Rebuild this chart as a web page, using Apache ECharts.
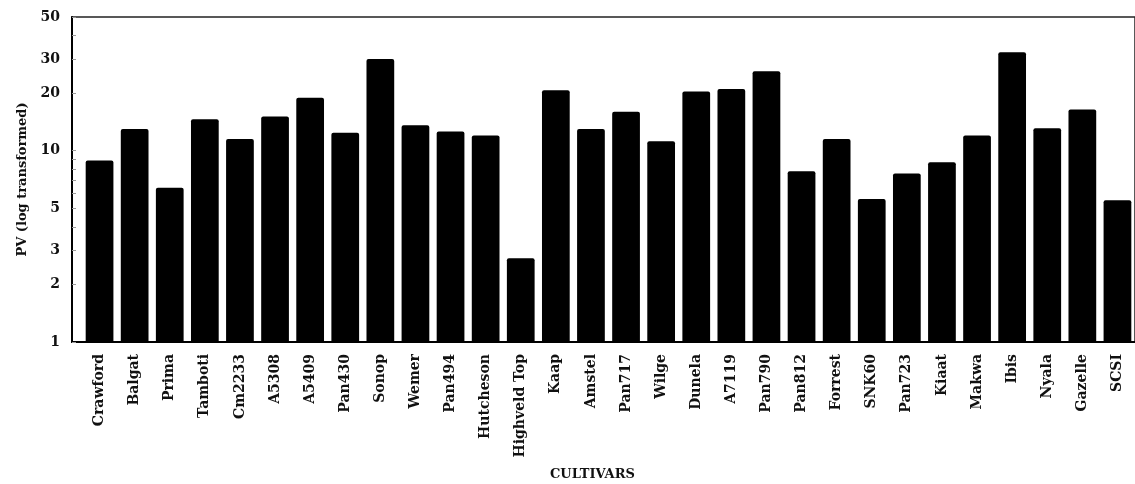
<!DOCTYPE html>
<html>
<head>
<meta charset="utf-8">
<title>PV by cultivar</title>
<script src="https://cdn.jsdelivr.net/npm/echarts@6/dist/echarts.min.js"></script>
<style>
  html, body { margin: 0; padding: 0; background: #ffffff; }
  #chart { width: 1135px; height: 484px; }
</style>
</head>
<body>
<div id="chart"></div>
<script>
// Wheat cultivars along the x axis
const cultivars = [
  'Crawford', 'Balgat', 'Prima', 'Tamboti', 'Cm2233', 'A5308', 'A5409', 'Pan430',
  'Sonop', 'Wemer', 'Pan494', 'Hutcheson', 'Highveld Top', 'Kaap', 'Amstel',
  'Pan717', 'Wilge', 'Dunela', 'A7119', 'Pan790', 'Pan812', 'Forrest', 'SNK60',
  'Pan723', 'Kiaat', 'Makwa', 'Ibis', 'Nyala', 'Gazelle', 'SCSI'
];

// PV per cultivar (shown on a log scale)
const pvValues = [
  8.9, 13.0, 6.4, 14.6, 11.5, 15.1, 18.9, 12.4,
  30.2, 13.6, 12.6, 12.0, 2.74, 20.7, 13.0,
  16.0, 11.2, 20.4, 21.0, 26.0, 7.8, 11.5, 5.6,
  7.6, 8.7, 12.0, 32.7, 13.1, 16.4, 5.5
];

// Labelled values and tick marks on the y axis
const yTickLabels = [1, 2, 3, 5, 10, 20, 30, 50];
const yTickMarks = [1, 2, 3, 4, 5, 6, 7, 8, 9, 10, 20, 30, 40, 50];

const serifBold = {
  fontFamily: '"DejaVu Serif", "Liberation Serif", serif',
  fontWeight: 'bold',
  color: '#111'
};

const chart = echarts.init(document.getElementById('chart'), null, { renderer: 'canvas' });

chart.setOption({
  animation: false,
  backgroundColor: '#ffffff',
  title: {
    text: 'CULTIVARS',
    left: 550,
    top: 468,
    padding: 0,
    textStyle: Object.assign({ fontSize: 13 }, serifBold)
  },
  grid: [
    // bars
    { left: 82, right: -1, top: 17, bottom: 142 },
    // frame carrying the y axis; its right side falls outside the page
    {
      left: 72, right: -8, top: 17, bottom: 142,
      show: true, borderColor: '#222', borderWidth: 1.5,
      backgroundColor: 'transparent'
    }
  ],
  xAxis: [
    {
      type: 'category',
      gridIndex: 0,
      data: cultivars,
      axisLine: { show: false },
      axisTick: { show: false },
      axisLabel: Object.assign({
        rotate: 90,
        margin: 12,
        fontSize: 14,
        interval: 0
      }, serifBold),
      splitLine: { show: false }
    },
    {
      type: 'value',
      gridIndex: 1,
      min: 0, max: 1,
      axisLine: { show: true, lineStyle: { color: '#000', width: 2 } },
      axisTick: { show: false },
      axisLabel: { show: false },
      splitLine: { show: false }
    }
  ],
  yAxis: [
    {
      type: 'log',
      gridIndex: 0,
      logBase: 10,
      min: 1, max: 50,
      show: false,
      splitLine: { show: false }
    },
    {
      type: 'log',
      gridIndex: 1,
      logBase: 10,
      min: 1, max: 50,
      name: 'PV (log transformed)',
      nameLocation: 'middle',
      nameGap: 42,
      nameTextStyle: Object.assign({ fontSize: 13 }, serifBold),
      axisLine: { show: true, lineStyle: { color: '#000', width: 2 } },
      axisTick: {
        show: true, inside: true, length: 4,
        customValues: yTickMarks,
        lineStyle: { color: '#999', width: 1 }
      },
      axisLabel: Object.assign({
        fontSize: 14,
        margin: 12,
        customValues: yTickLabels
      }, serifBold),
      minorTick: { show: false },
      splitLine: { show: false }
    }
  ],
  series: [
    {
      type: 'bar',
      xAxisIndex: 0,
      yAxisIndex: 0,
      data: pvValues,
      barCategoryGap: '21%',
      itemStyle: { color: '#000', borderRadius: [2, 2, 0, 0] }
    }
  ]
});
</script>
</body>
</html>
